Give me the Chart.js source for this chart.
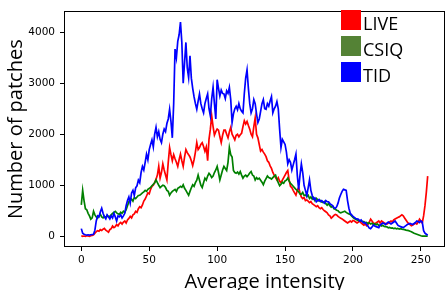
<!DOCTYPE html>
<html lang="en">
<head>
    <meta charset="UTF-8">
    <title>Average intensity</title>
    <script src="https://cdn.jsdelivr.net/npm/chart.js"></script>
    <style>
        body { margin: 0; background: #fff; }
        #grafico { width: 446px; height: 290px; }
    </style>
</head>
<body>
    <div id="grafico">
        <canvas id="grafico-patches" width="446" height="290"></canvas>
    </div>
    <script>
        // intensity levels 0..255 (x categories)
        const intensity = Array.from({ length: 256 }, (_, i) => i);
        const seriesNames = ['LIVE', 'CSIQ', 'TID'];

        const live = [
            10, 0, 5, 0, 10, 5, 0, 10, 15, 30, 60, 90, 110, 100, 130, 115,
            140, 155, 120, 100, 80, 130, 150, 200, 170, 190, 230, 205, 250, 270, 240, 280,
            300, 260, 320, 350, 390, 360, 420, 440, 490, 470, 540, 580, 560, 615, 690, 730,
            790, 850, 830, 920, 980, 1000, 1050, 1120, 1200, 1370, 1140, 1250, 1420, 1300, 1200, 1105,
            1450, 1740, 1600, 1480, 1600, 1520, 1450, 1370, 1500, 1610, 1480, 1370, 1550, 1700, 1640, 1600,
            1555, 1480, 1385, 1500, 1650, 1835, 1700, 1740, 1800, 1835, 1760, 1665, 1750, 1480, 1900, 2100,
            2360, 2150, 1985, 2050, 2100, 2080, 1950, 1835, 1980, 2080, 2080, 2000, 1930, 2050, 2135, 2000,
            1950, 1890, 1980, 2000, 1950, 1990, 2020, 2150, 2265, 2200, 2250, 2170, 2100, 2000, 1950, 2150,
            2320, 2000, 1930, 1800, 1670, 1700, 1650, 1610, 1560, 1480, 1450, 1380, 1330, 1250, 1200, 1150,
            1105, 1150, 1080, 1050, 1100, 1150, 1200, 1250, 1290, 1100, 980, 955, 900, 850, 805, 900,
            955, 850, 770, 740, 760, 700, 710, 690, 660, 680, 640, 620, 600, 580, 600, 560,
            540, 560, 525, 500, 480, 460, 420, 400, 355, 380, 410, 430, 420, 390, 370, 355,
            340, 320, 300, 280, 260, 280, 300, 280, 310, 300, 280, 260, 280, 300, 260, 240,
            220, 240, 205, 230, 280, 335, 300, 260, 240, 260, 280, 300, 260, 300, 280, 260,
            250, 240, 260, 280, 300, 280, 320, 340, 355, 370, 380, 400, 420, 400, 360, 320,
            280, 250, 230, 205, 220, 240, 260, 240, 280, 335, 300, 260, 400, 600, 860, 1180
        ];

        const csiq = [
            615, 900, 700, 540, 520, 450, 400, 335, 360, 490, 420, 380, 355, 400, 430, 380,
            360, 390, 370, 410, 380, 390, 420, 450, 470, 490, 460, 440, 430, 470, 450, 490,
            470, 520, 600, 675, 700, 730, 690, 760, 740, 770, 800, 805, 825, 850, 870, 900,
            880, 920, 940, 960, 990, 1020, 1050, 1105, 1050, 1000, 955, 980, 1000, 990, 955, 900,
            880, 805, 850, 880, 900, 920, 880, 940, 955, 980, 960, 1010, 940, 900, 850, 805,
            880, 950, 1010, 980, 1050, 1100, 1200, 1100, 1000, 955, 1050, 1140, 1100, 1180, 1235, 1200,
            1150, 1180, 1250, 1300, 1370, 1250, 1105, 1200, 1300, 1370, 1330, 1290, 1450, 1740, 1600, 1555,
            1290, 1250, 1235, 1260, 1220, 1270, 1200, 1140, 1180, 1200, 1170, 1200, 1240, 1270, 1200, 1180,
            1105, 1150, 1120, 1140, 1100, 1060, 1010, 1080, 1130, 1180, 1150, 1140, 1120, 1150, 1180, 1200,
            1120, 1050, 990, 1020, 1060, 1040, 1085, 1100, 1140, 1080, 1040, 1010, 980, 950, 920, 900,
            870, 830, 825, 860, 800, 810, 780, 805, 740, 770, 730, 760, 700, 745, 720, 690,
            700, 670, 660, 680, 640, 610, 640, 600, 570, 590, 540, 530, 510, 500, 470, 460,
            470, 480, 490, 470, 450, 440, 430, 400, 370, 350, 335, 320, 310, 305, 300, 290,
            290, 260, 270, 250, 265, 240, 255, 230, 245, 225, 240, 215, 220, 200, 215, 195,
            190, 185, 165, 175, 160, 165, 150, 160, 145, 155, 140, 150, 140, 135, 130, 120,
            115, 110, 100, 90, 75, 60, 50, 40, 30, 20, 10, 5, 5, 5, 5, 5
        ];

        const tid = [
            150, 60, 40, 30, 25, 30, 25, 30, 35, 40, 120, 300, 400, 380, 480, 550,
            450, 380, 340, 420, 380, 340, 400, 360, 450, 380, 300, 400, 380, 420, 360, 400,
            450, 600, 700, 770, 650, 850, 900, 800, 950, 990, 1100, 1050, 1250, 1370, 1300, 1450,
            1610, 1500, 1700, 1800, 1890, 1750, 2000, 2135, 1950, 2050, 1900, 1835, 2000, 2100, 2050, 2210,
            2300, 2490, 2250, 1930, 2600, 3670, 3500, 3820, 3950, 4200, 3800, 3000, 3400, 3800, 3300, 3110,
            3540, 3100, 2900, 2735, 2600, 2490, 2650, 2790, 2600, 2500, 2420, 2600, 2700, 2790, 2500, 2360,
            2700, 2920, 2600, 2300, 3070, 2900, 2750, 2865, 2800, 2790, 2700, 2850, 2800, 2920, 2680, 2230,
            2400, 2500, 2550, 2480, 2600, 2500, 2450, 2420, 2800, 3100, 3260, 2900, 2600, 2420, 2500, 2680,
            2600, 2400, 2230, 2300, 2450, 2600, 2680, 2500, 2490, 2600, 2550, 2650, 2735, 2420, 2500, 2550,
            2640, 2500, 2100, 1740, 1900, 1850, 1800, 1650, 1420, 1500, 1450, 1300, 1400, 1500, 1610, 1200,
            920, 1200, 1420, 1250, 1000, 900, 800, 950, 1105, 900, 800, 730, 750, 675, 700, 720,
            680, 700, 675, 650, 700, 680, 675, 640, 620, 600, 560, 545, 580, 650, 750, 820,
            880, 920, 910, 900, 700, 550, 450, 420, 390, 370, 350, 340, 335, 300, 320, 280,
            260, 270, 230, 200, 160, 150, 180, 220, 200, 190, 180, 170, 220, 240, 260, 250,
            230, 260, 280, 260, 240, 260, 280, 300, 260, 220, 200, 190, 180, 170, 190, 210,
            230, 240, 250, 240, 230, 250, 270, 300, 290, 270, 300, 280, 110, 60, 40, 20
        ];

        const xTicks = [0, 50, 100, 150, 200, 250];
        const yTicks = [0, 1000, 2000, 3000, 4000];
        const xTitle = 'Average intensity';
        const yTitle = 'Number of patches';

        const lineColors = ['#ff0000', '#008000', '#0000ff'];
        const legendColors = ['#ff0000', '#548235', '#0000ff'];

        function pontos(valores) {
            return valores.map((v, i) => ({ x: intensity[i], y: v }));
        }

        // frame, legend and x title drawn on top of the chart
        const extras = {
            id: 'extras',
            afterDraw(chart) {
                const { ctx, chartArea: a } = chart;
                ctx.save();
                ctx.strokeStyle = '#000';
                ctx.lineWidth = 1;
                ctx.strokeRect(Math.round(a.left) + 0.5, Math.round(a.top) + 0.5,
                    Math.round(a.right - a.left) - 1, Math.round(a.bottom - a.top) - 1);

                ctx.font = '18px "Open Sans"';
                ctx.textAlign = 'left';
                ctx.textBaseline = 'alphabetic';
                seriesNames.forEach((nome, k) => {
                    const y = 10 + k * 26;
                    ctx.fillStyle = legendColors[k];
                    ctx.fillRect(341, y, 20, 20);
                    ctx.fillStyle = '#000';
                    ctx.fillText(nome, 363, y + 19.5);
                });

                ctx.font = '20px "Open Sans"';
                ctx.textAlign = 'center';
                ctx.fillText(xTitle, 264.5, 288);
                ctx.restore();
            }
        };

        function criarGrafico() {
            const ctx = document.getElementById('grafico-patches').getContext('2d');
            const series = [live, csiq, tid];
            const config = {
                type: 'line',
                data: {
                    datasets: series.map((valores, k) => ({
                        label: seriesNames[k],
                        data: pontos(valores),
                        borderColor: lineColors[k],
                        borderWidth: 1.7,
                        pointRadius: 0,
                        tension: 0,
                        fill: false,
                        order: 2 - k
                    }))
                },
                options: {
                    responsive: false,
                    animation: false,
                    devicePixelRatio: 1,
                    layout: { padding: { top: 1, right: 1, left: 0, bottom: 0 } },
                    plugins: {
                        legend: { display: false },
                        tooltip: { enabled: false }
                    },
                    scales: {
                        x: {
                            type: 'linear',
                            min: -12.75,
                            max: 267.75,
                            afterBuildTicks: s => { s.ticks = xTicks.map(v => ({ value: v })); },
                            afterFit: s => { s.height = 43; },
                            grid: { drawOnChartArea: false, drawTicks: true, tickLength: 4, color: '#000' },
                            border: { display: false },
                            ticks: {
                                color: '#000',
                                font: { family: 'DejaVu Sans', size: 10.5 },
                                padding: 3,
                                maxRotation: 0,
                                callback: v => String(v)
                            }
                        },
                        y: {
                            type: 'linear',
                            min: -210,
                            max: 4410,
                            afterBuildTicks: s => { s.ticks = yTicks.map(v => ({ value: v })); },
                            afterFit: s => { s.width = 64; },
                            grid: { drawOnChartArea: false, drawTicks: true, tickLength: 4, color: '#000' },
                            border: { display: false },
                            title: {
                                display: true,
                                text: yTitle,
                                color: '#000',
                                font: { family: 'Open Sans', size: 20 },
                                padding: { top: 4, bottom: 0 }
                            },
                            ticks: {
                                color: '#000',
                                font: { family: 'DejaVu Sans', size: 10.5 },
                                padding: 5,
                                callback: v => String(v)
                            }
                        }
                    }
                },
                plugins: [extras]
            };
            new Chart(ctx, config);
        }

        window.onload = function() {
            criarGrafico();
        };
    </script>
</body>
</html>
